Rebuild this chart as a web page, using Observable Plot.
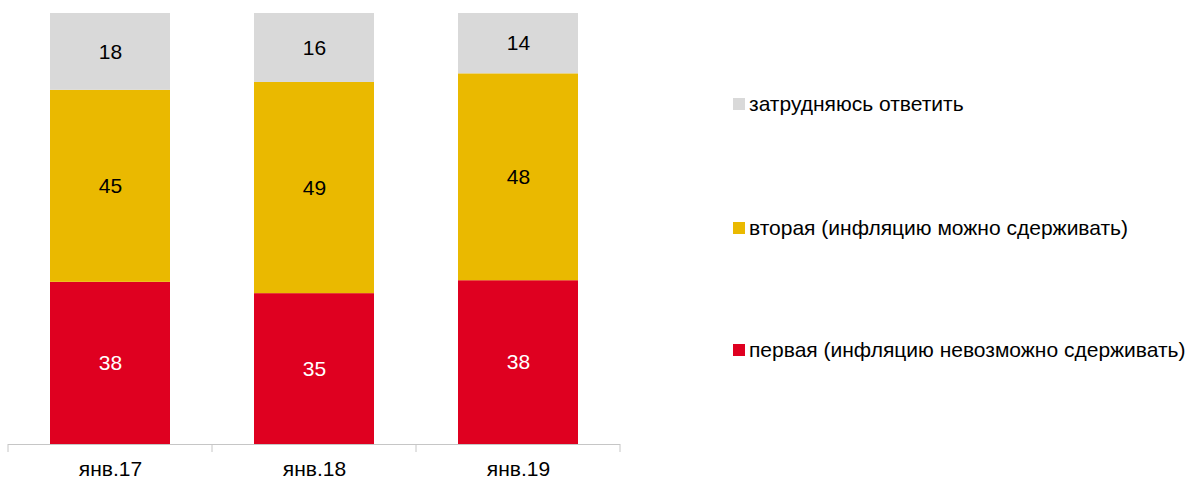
<!DOCTYPE html>
<html>
<head>
<meta charset="utf-8">
<script src="https://cdn.jsdelivr.net/npm/d3@7"></script>
<script src="https://cdn.jsdelivr.net/npm/@observablehq/plot@0.6"></script>
<style>
  body { margin: 0; background: #fff; font-family: "Liberation Sans", Arial, sans-serif; }
  #wrap { position: relative; width: 1196px; height: 481px; }
  #chart { position: absolute; left: 0; top: 0; }
  #legend { position: absolute; left: 733px; top: 0; font-size: 21px; color: #000; }
  .row { position: absolute; left: 0; white-space: nowrap; display: flex; align-items: center; }
  .sw { width: 12px; height: 12px; margin-right: 4px; display: inline-block; }
</style>
</head>
<body>
<div id="wrap">
  <div id="chart"></div>
  <div id="legend"></div>
</div>
<script>
const categories = ["янв.17", "янв.18", "янв.19"];
const seriesNames = [
  "первая (инфляцию невозможно сдерживать)",
  "вторая (инфляцию можно сдерживать)",
  "затрудняюсь ответить"
];
const seriesColors = ["#DF0020", "#EAB900", "#D9D9D9"];
const firstValues = [38, 35, 38];
const secondValues = [45, 49, 48];
const hardValues = [18, 16, 14];

const valuesBySeries = [firstValues, secondValues, hardValues];
const data = [];
seriesNames.forEach((s, si) => {
  categories.forEach((c, ci) => {
    data.push({category: c, series: s, value: valuesBySeries[si][ci]});
  });
});

const stackOpts = {x: "category", y: "value", z: "series", offset: "normalize", order: seriesNames};

const plot = Plot.plot({
  width: 640,
  height: 481,
  marginLeft: 8,
  marginRight: 20,
  marginTop: 13,
  marginBottom: 37,
  style: {fontFamily: "'Liberation Sans', Arial, sans-serif", fontSize: "21px", background: "white"},
  x: {domain: categories, paddingInner: 0.41, paddingOuter: 0.205, label: null},
  y: {domain: [0, 1], axis: null},
  color: {domain: seriesNames, range: seriesColors},
  marks: [
    Plot.barY(data, Plot.stackY({...stackOpts, fill: "series"})),
    Plot.text(data, Plot.stackY({...stackOpts, text: d => d.series === seriesNames[0] ? null : d.value, fill: "black", fontSize: 21})),
    Plot.text(data, Plot.stackY({...stackOpts, text: d => d.series === seriesNames[0] ? d.value : null, fill: "white", fontSize: 21})),
    Plot.ruleY([0], {stroke: "#c6c6c6", strokeWidth: 1}),
    Plot.axisX({tickSize: 0, tickPadding: 17, fontSize: 21, fill: "black"})
  ]
});

// category boundary ticks, from the library's x scale
const xs = plot.scale("x");
const ys = plot.scale("y");
const base = ys.apply(0);
const svg = d3.select(plot);
const edges = categories.map(c => xs.apply(c) - (xs.step - xs.bandwidth) / 2);
edges.push(xs.apply(categories[categories.length - 1]) + xs.bandwidth + (xs.step - xs.bandwidth) / 2);
svg.append("g").selectAll("line").data(edges).join("line")
  .attr("x1", d => d).attr("x2", d => d)
  .attr("y1", base).attr("y2", base + 8)
  .attr("stroke", "#c6c6c6");

document.getElementById("chart").appendChild(plot);

// legend (reverse order: top = last series)
const legendTops = [350, 228, 104];
const legend = document.getElementById("legend");
seriesNames.forEach((s, i) => {
  const row = document.createElement("div");
  row.className = "row";
  row.style.top = (legendTops[i] - 13) + "px";
  row.style.height = "26px";
  const sw = document.createElement("span");
  sw.className = "sw";
  sw.style.background = seriesColors[i];
  const t = document.createElement("span");
  t.textContent = s;
  row.appendChild(sw);
  row.appendChild(t);
  legend.appendChild(row);
});
</script>
</body>
</html>
